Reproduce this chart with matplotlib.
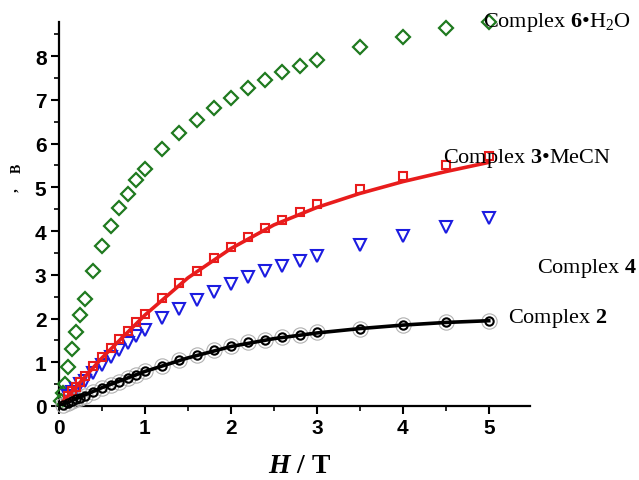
import matplotlib
matplotlib.use("Agg")
import matplotlib.pyplot as plt
from matplotlib.ticker import MultipleLocator

plt.rcParams['mathtext.fontset'] = 'custom'
plt.rcParams['mathtext.rm'] = 'Liberation Serif'
plt.rcParams['mathtext.bf'] = 'Liberation Serif:bold'
plt.rcParams['mathtext.it'] = 'Liberation Serif:italic:bold'

# Complex 6·H2O (green diamonds)
h6 = [0.02, 0.05, 0.07, 0.1, 0.15, 0.2, 0.25, 0.3, 0.4, 0.5, 0.6, 0.7, 0.8, 0.9, 1.0,
      1.2, 1.4, 1.6, 1.8, 2.0, 2.2, 2.4, 2.6, 2.8, 3.0, 3.5, 4.0, 4.5, 5.0]
m6 = [0.11, 0.30, 0.50, 0.89, 1.30, 1.69, 2.08, 2.45, 3.09, 3.66, 4.11, 4.53, 4.85, 5.17, 5.42,
      5.87, 6.24, 6.54, 6.81, 7.04, 7.27, 7.45, 7.63, 7.77, 7.91, 8.21, 8.43, 8.64, 8.78]

# Complex 3·MeCN (red squares) and fit
h3 = [0.1, 0.15, 0.2, 0.25, 0.3, 0.4, 0.5, 0.6, 0.7, 0.8, 0.9, 1.0,
      1.2, 1.4, 1.6, 1.8, 2.0, 2.2, 2.4, 2.6, 2.8, 3.0, 3.5, 4.0, 4.5, 5.0]
m3 = [0.24, 0.34, 0.43, 0.55, 0.69, 0.91, 1.12, 1.33, 1.53, 1.71, 1.92, 2.10,
      2.47, 2.81, 3.09, 3.38, 3.63, 3.86, 4.07, 4.25, 4.43, 4.62, 4.96, 5.26, 5.51, 5.71]
h3_fit = [0.0, 0.5, 1.0, 1.5, 2.0, 2.5, 3.0, 3.5, 4.0, 4.5, 5.0]
m3_fit = [0.0, 1.10, 2.08, 2.93, 3.60, 4.14, 4.54, 4.86, 5.13, 5.36, 5.57]

# Complex 4 (blue triangles)
h4 = [0.1, 0.15, 0.2, 0.25, 0.3, 0.4, 0.5, 0.6, 0.7, 0.8, 0.9, 1.0,
      1.2, 1.4, 1.6, 1.8, 2.0, 2.2, 2.4, 2.6, 2.8, 3.0, 3.5, 4.0, 4.5, 5.0]
m4 = [0.22, 0.32, 0.39, 0.50, 0.57, 0.75, 0.94, 1.12, 1.28, 1.44, 1.60, 1.74,
      2.01, 2.22, 2.42, 2.61, 2.79, 2.95, 3.09, 3.21, 3.31, 3.43, 3.68, 3.89, 4.09, 4.30]

# Complex 2 (black circles) and fit
h2 = [0.05, 0.1, 0.15, 0.2, 0.25, 0.3, 0.4, 0.5, 0.6, 0.7, 0.8, 0.9, 1.0,
      1.2, 1.4, 1.6, 1.8, 2.0, 2.2, 2.4, 2.6, 2.8, 3.0, 3.5, 4.0, 4.5, 5.0]
m2 = [0.03, 0.07, 0.11, 0.16, 0.19, 0.23, 0.32, 0.41, 0.48, 0.55, 0.64, 0.71, 0.80,
      0.91, 1.06, 1.17, 1.28, 1.37, 1.46, 1.52, 1.58, 1.62, 1.69, 1.76, 1.85, 1.92, 1.94]
h2_fit = [0.0, 0.5, 1.0, 1.5, 2.0, 2.5, 3.0, 3.5, 4.0, 4.5, 5.0]
m2_fit = [0.0, 0.42, 0.79, 1.10, 1.36, 1.54, 1.67, 1.77, 1.85, 1.91, 1.95]

xticks = [0, 1, 2, 3, 4, 5]
yticks = [0, 1, 2, 3, 4, 5, 6, 7, 8]

W, H = 639, 481
fig = plt.figure(figsize=(W / 100, H / 100), dpi=100)
ax = fig.add_axes([59 / W, 1 - 407 / H, (530 - 59) / W, (407 - 23) / H])
ax.set_xlim(0, 5.48)
ax.set_ylim(0, 8.78)

green = '#1f7a1f'
red = '#e81c1c'
blue = '#1c1ce0'

ax.plot(h6, m6, linestyle='none', marker='D', markersize=7, markerfacecolor='none',
        markeredgecolor=green, markeredgewidth=1.6, clip_on=False, zorder=3)
ax.plot(h4, m4, linestyle='none', marker='v', markersize=8, markerfacecolor='none',
        markeredgecolor=blue, markeredgewidth=1.5, clip_on=False, zorder=3)
ax.plot(h3_fit, m3_fit, color=red, linewidth=2.6, zorder=4)
ax.plot(h3, m3, linestyle='none', marker='s', markersize=6, markerfacecolor='none',
        markeredgecolor=red, markeredgewidth=1.5, clip_on=False, zorder=5)
ax.plot(h2, m2, linestyle='none', marker='o', markersize=11, markerfacecolor='none',
        markeredgecolor='#b0b0b0', markeredgewidth=0.8, clip_on=False, zorder=3)
ax.plot(h2_fit, m2_fit, color='black', linewidth=2.6, zorder=4)
ax.plot(h2, m2, linestyle='none', marker='o', markersize=6, markerfacecolor='none',
        markeredgecolor='black', markeredgewidth=1.5, clip_on=False, zorder=5)

for s in ['top', 'right']:
    ax.spines[s].set_visible(False)
for s in ['left', 'bottom']:
    ax.spines[s].set_linewidth(1.6)

ax.set_xticks(xticks)
ax.set_yticks(yticks)
ax.xaxis.set_minor_locator(MultipleLocator(0.5))
ax.yaxis.set_minor_locator(MultipleLocator(0.5))
ax.tick_params(which='major', direction='out', length=6, width=1.5, labelsize=15, pad=3)
ax.tick_params(which='minor', direction='out', length=3.5, width=1.2)
for lab in ax.get_xticklabels() + ax.get_yticklabels():
    lab.set_fontfamily('Liberation Sans')
    lab.set_fontweight('bold')

fig.text(300 / W, 1 - 467 / H, r'$H$ / T', fontsize=20, fontweight='bold',
         fontfamily='Liberation Serif', ha='center', va='center')

# visible fragment of the clipped y-axis label in the reference
fig.text(17 / W, 1 - 168 / H, 'B', fontsize=10, fontweight='bold',
         fontfamily='Liberation Serif', rotation=90, ha='center', va='center')
fig.text(13 / W, 1 - 190 / H, ',', fontsize=11, fontweight='bold',
         fontfamily='Liberation Serif', rotation=90, ha='center', va='center')

tkw = dict(fontsize=16, fontfamily='Liberation Serif', ha='left', va='center')
fig.text(483 / W, 1 - 22 / H, r'Complex $\mathbf{6}$•H$_2$O', **tkw)
fig.text(443 / W, 1 - 158 / H, r'Complex $\mathbf{3}$•MeCN', **tkw)
fig.text(537 / W, 1 - 268 / H, r'Complex $\mathbf{4}$', **tkw)
fig.text(508 / W, 1 - 318 / H, r'Complex $\mathbf{2}$', **tkw)

fig.savefig('out.png', dpi=100)
